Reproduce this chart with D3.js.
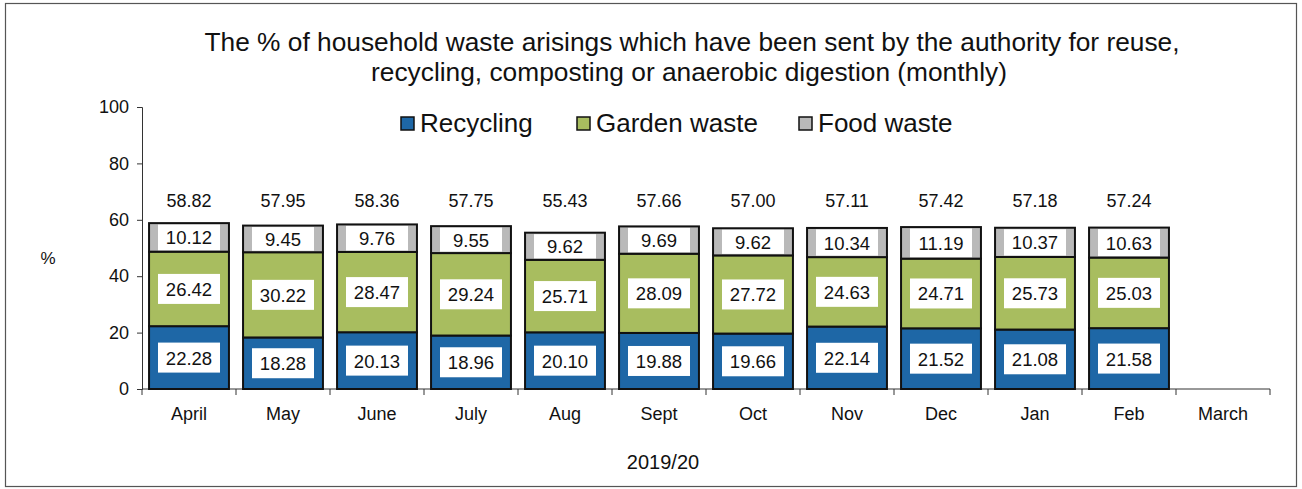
<!DOCTYPE html>
<html><head><meta charset="utf-8">
<script src="https://cdn.jsdelivr.net/npm/d3@7"></script>
<style>body{margin:0;background:#fff;}svg{display:block;font-family:"Liberation Sans",Arial,sans-serif;}</style>
</head><body><svg id="c" width="1302" height="489"></svg>
<script>
const months = ["April","May","June","July","Aug","Sept","Oct","Nov","Dec","Jan","Feb","March"];
const recycling = [22.28,18.28,20.13,18.96,20.10,19.88,19.66,22.14,21.52,21.08,21.58];
const garden = [26.42,30.22,28.47,29.24,25.71,28.09,27.72,24.63,24.71,25.73,25.03];
const food = [10.12,9.45,9.76,9.55,9.62,9.69,9.62,10.34,11.19,10.37,10.63];
const totals = ["58.82","57.95","58.36","57.75","55.43","57.66","57.00","57.11","57.42","57.18","57.24"];
const seriesNames = ["Recycling","Garden waste","Food waste"];
const yTicks = [0,20,40,60,80,100];
const colors = ["#1e67a6","#a8bd5f","#b9b9b9"];

const svg = d3.select("#c");
svg.append("rect").attr("x",5.5).attr("y",3.5).attr("width",1291).attr("height",483).attr("fill","none").attr("stroke","#555").attr("stroke-width",1.2);

const X0 = 142, X1 = 1270;
const x = d3.scaleBand().domain(months).range([X0,X1]).paddingInner(0.15).paddingOuter(0.075);
const y = d3.scaleLinear().domain([0,100]).range([389,107]);

// title
const title = svg.append("text").attr("text-anchor","middle").attr("font-size",26.3).attr("fill","#111");
title.append("tspan").attr("x",692).attr("y",51).text("The % of household waste arisings which have been sent by the authority for reuse,");
title.append("tspan").attr("x",689).attr("y",81).text("recycling, composting or anaerobic digestion (monthly)");

// legend
const legX = [401,577,799];
seriesNames.forEach((n,i)=>{
  svg.append("rect").attr("x",legX[i]).attr("y",117).attr("width",13).attr("height",13).attr("fill",colors[i]).attr("stroke","#111").attr("stroke-width",1.5);
  svg.append("text").attr("x",legX[i]+19).attr("y",132).attr("font-size",26).attr("fill","#111").text(n);
});

// axes
const yAxis = d3.axisLeft(y).tickValues(yTicks).tickSize(5).tickPadding(8);
const gy = svg.append("g").attr("transform","translate(142,0)").call(yAxis);
gy.selectAll("text").attr("font-size",18).attr("fill","#111").attr("font-family","Liberation Sans, Arial, sans-serif");
gy.selectAll("line,path").attr("stroke","#333");

const gx = svg.append("g").attr("transform","translate(0,389)");
gx.append("line").attr("x1",X0).attr("x2",X1).attr("stroke","#333");
d3.range(months.length+1).forEach(i=>{
  const xp = X0 + (X1-X0)*i/months.length;
  gx.append("line").attr("x1",xp).attr("x2",xp).attr("y1",0).attr("y2",6).attr("stroke","#333");
});
months.forEach(m=>{
  gx.append("text").attr("x",x(m)+x.bandwidth()/2).attr("y",31).attr("text-anchor","middle").attr("font-size",18).attr("fill","#111").text(m);
});

svg.append("text").attr("x",48).attr("y",264).attr("text-anchor","middle").attr("font-size",17).attr("fill","#111").text("%");
svg.append("text").attr("x",663).attr("y",469).attr("text-anchor","middle").attr("font-size",20).attr("fill","#111").text("2019/20");

// stacked bars
const data = recycling.map((r,i)=>({month:months[i], vals:[r,garden[i],food[i]]}));
const g = svg.append("g");
data.forEach((d,i)=>{
  let base = 0;
  const cx = x(d.month)+x.bandwidth()/2;
  d.vals.forEach((v,s)=>{
    const y0 = y(base), y1 = y(base+v);
    g.append("rect").attr("x",x(d.month)).attr("y",y1).attr("width",x.bandwidth()).attr("height",y0-y1)
      .attr("fill",colors[s]).attr("stroke","#111").attr("stroke-width",2);
    const cy = (y0+y1)/2;
    const bh = Math.min(30, y0-y1-3);
    g.append("rect").attr("x",cx-31).attr("y",cy-bh/2).attr("width",62).attr("height",bh).attr("fill","#fff");
    g.append("text").attr("x",cx).attr("y",cy+7).attr("text-anchor","middle").attr("font-size",18.5).attr("fill","#111").text(v.toFixed(2));
    base += v;
  });
  g.append("text").attr("x",cx).attr("y",y(67)+7).attr("text-anchor","middle").attr("font-size",18).attr("fill","#111").text(totals[i]);
});
</script></body></html>
